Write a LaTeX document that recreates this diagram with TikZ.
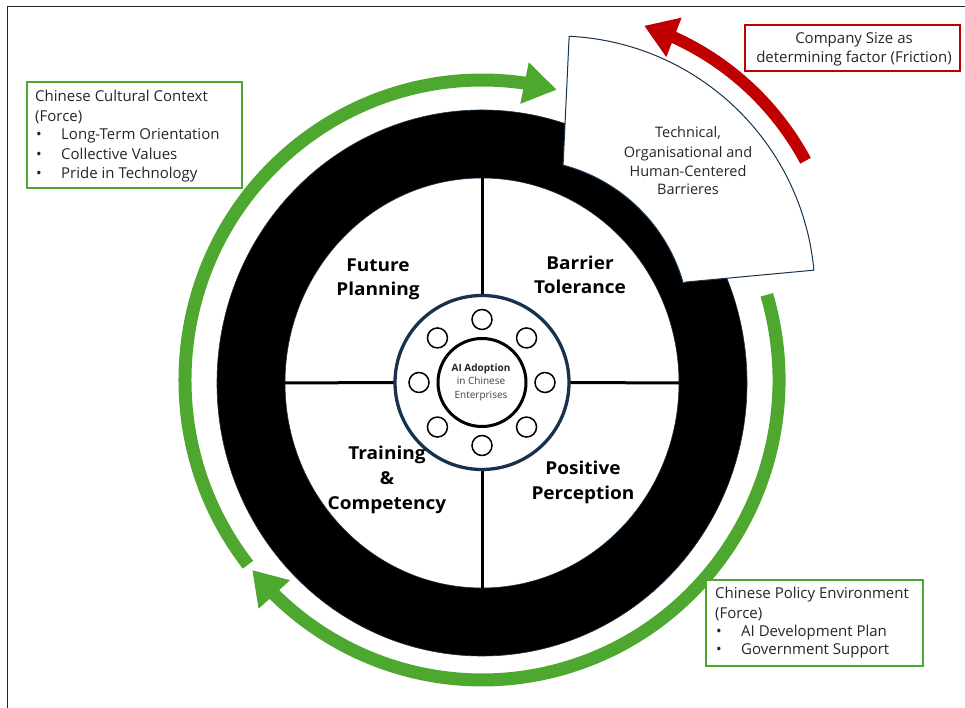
\documentclass[tikz,border=0pt]{standalone}
\usepackage{fontspec}
\setmainfont{Open Sans}
\newfontfamily\quadfont{Open Sans}[FakeStretch=1.07]
\usetikzlibrary{arrows.meta,bending,calc}
\definecolor{forcegreen}{HTML}{4EA72E}
\definecolor{frictionred}{HTML}{C00000}
\definecolor{navy}{HTML}{17324A}
\definecolor{ink}{HTML}{262626}
\definecolor{softink}{HTML}{404040}

\begin{document}
\begin{tikzpicture}[x=1pt,y=1pt,
  forcearc/.style={draw=forcegreen, line width=13pt,
    -{Triangle[length=33pt,width=40pt,flex]}},
  frictionarc/.style={draw=frictionred, line width=12pt,
    -{Triangle[length=32pt,width=40pt,flex]}},
  forcebox/.style={draw=forcegreen, line width=2.5pt, fill=white, inner sep=0},
  frictionbox/.style={draw=frictionred, line width=2.5pt, fill=white, inner sep=0},
  boxtext/.style={anchor=base west, inner sep=0, text=ink,
    font=\fontsize{15}{18}\selectfont},
  boxcentred/.style={anchor=base, inner sep=0, text=ink,
    font=\fontsize{15}{18}\selectfont},
  quad/.style={anchor=base, inner sep=0, text=black,
    font=\quadfont\bfseries\fontsize{17.8}{25}\selectfont},
  hubtext/.style={anchor=base, inner sep=0, text=softink,
    font=\fontsize{10}{13}\selectfont},
  divider/.style={draw=black, line width=3pt},
  bolt/.style={draw=black, line width=1.5pt, fill=white},
]
\useasboundingbox (0,0) rectangle (965,708);

% page frame
\draw[black!85, line width=1pt] (7,0) -- (7,701) -- (965,701);

% centre of the wheel and of the force arcs
\coordinate (C) at (482,325);
\coordinate (G) at (482,328);

% forces: green arcs around the wheel
\draw[forcearc] (G) ++(218:297 and 300)
  arc[start angle=218, end angle=75.4, x radius=297, y radius=300];
\draw[forcearc] (G) ++(16.5:297 and 300)
  arc[start angle=16.5, end angle=-140.7, x radius=297, y radius=300];

% friction: red arc
\coordinate (A) at (557,414);
\draw[frictionarc] (A) ++(28.2:282) arc[start angle=28.2, end angle=72, radius=282];

% black ring
\fill[black, even odd rule]
  (C) ellipse[x radius=265, y radius=273]
  (C) ellipse[x radius=197, y radius=205];
\draw[navy, line width=0.6pt] (C) ellipse[x radius=265, y radius=273];
\draw[navy, line width=0.6pt] (C) ellipse[x radius=197, y radius=205];

% barrier block lifted out of the ring
\coordinate (blockP) at ($(A)+(5.3:129)$);
\coordinate (blockQ) at ($(A)+(87.3:129)$);
\draw[navy, line width=1pt, fill=white]
  (blockP) -- ($(A)+(5.3:258)$)
  arc[start angle=5.3, end angle=87.3, radius=258]
  -- (blockQ) arc[start angle=75.2, end angle=15.8, radius=170] -- cycle;

% quadrant dividers
\node[circle, minimum size=174pt, inner sep=0] (hub) at (482,325.5) {};
\draw[divider] (482,533) -- (hub.north);
\draw[divider] (hub.south) -- (482,120);
\draw[divider] (285,325) -- (hub.west);
\draw[divider] (hub.east) -- (679,325);

% hub
\draw[navy, line width=3.3pt, fill=white] (hub.center) circle[radius=87];
\draw[black, line width=3pt] (hub.center) circle[radius=44];
\foreach \a in {0,45,...,315}
  \draw[bolt] (hub.center) ++(\a:63) circle[radius=10];

\node[hubtext, font=\bfseries\fontsize{10}{13}\selectfont, text=ink] (hub1) at (481,336.3) {AI Adoption};
\node[hubtext] (hub2) at (481,323) {in Chinese};
\node[hubtext] (hub3) at (481,309.7) {Enterprises};

% quadrant labels
\node[quad] (fp1) at (378,436.3) {Future};
\node[quad] (fp2) at (378,412) {Planning};
\node[quad] (bt1) at (580,438.7) {Barrier};
\node[quad] (bt2) at (580,414.7) {Tolerance};
\node[quad] (tc1) at (387,248) {Training};
\node[quad] (tc2) at (387,223) {\&};
\node[quad] (tc3) at (387,198.7) {Competency};
\node[quad] (pp1) at (583,233) {Positive};
\node[quad] (pp2) at (583,208.7) {Perception};

% barrier block text
\node[boxcentred, font=\fontsize{14.5}{18}\selectfont] (bb1) at (688,570.3) {Technical,};
\node[boxcentred, font=\fontsize{14.5}{18}\selectfont] (bb2) at (688,550.3) {Organisational and};
\node[boxcentred, font=\fontsize{14.5}{18}\selectfont] (bb3) at (688,531.3) {Human-Centered};
\node[boxcentred, font=\fontsize{14.5}{18}\selectfont] (bb4) at (688,513) {Barrieres};

% cultural context box
\node[forcebox, minimum width=215pt, minimum height=106pt] (culture) at (134.5,573) {};
\node[boxtext] (cu1) at (35,606.3) {Chinese Cultural Context};
\node[boxtext] (cu2) at (35,586.3) {(Force)};
\node[boxtext] (cub1) at (36,568) {•};
\node[boxtext] (cu3) at (61,568) {Long-Term Orientation};
\node[boxtext] (cub2) at (36,548.7) {•};
\node[boxtext] (cu4) at (61,548.7) {Collective Values};
\node[boxtext] (cub3) at (36,529.7) {•};
\node[boxtext] (cu5) at (61,529.7) {Pride in Technology};

% policy environment box
\node[forcebox, minimum width=217pt, minimum height=86pt] (policy) at (814.5,85) {};
\node[boxtext] (po1) at (715,109.7) {Chinese Policy Environment};
\node[boxtext] (po2) at (715,89.7) {(Force)};
\node[boxtext] (pob1) at (716,71.3) {•};
\node[boxtext] (po3) at (741,71.3) {AI Development Plan};
\node[boxtext] (pob2) at (716,53) {•};
\node[boxtext] (po4) at (741,53) {Government Support};

% company size box
\node[frictionbox, minimum width=215pt, minimum height=46pt] (size) at (852.5,660) {};
\node[boxcentred] (sz1) at (854,664.7) {Company Size as};
\node[boxcentred] (sz2) at (854,645.3) {determining factor (Friction)};
\end{tikzpicture}
\end{document}
